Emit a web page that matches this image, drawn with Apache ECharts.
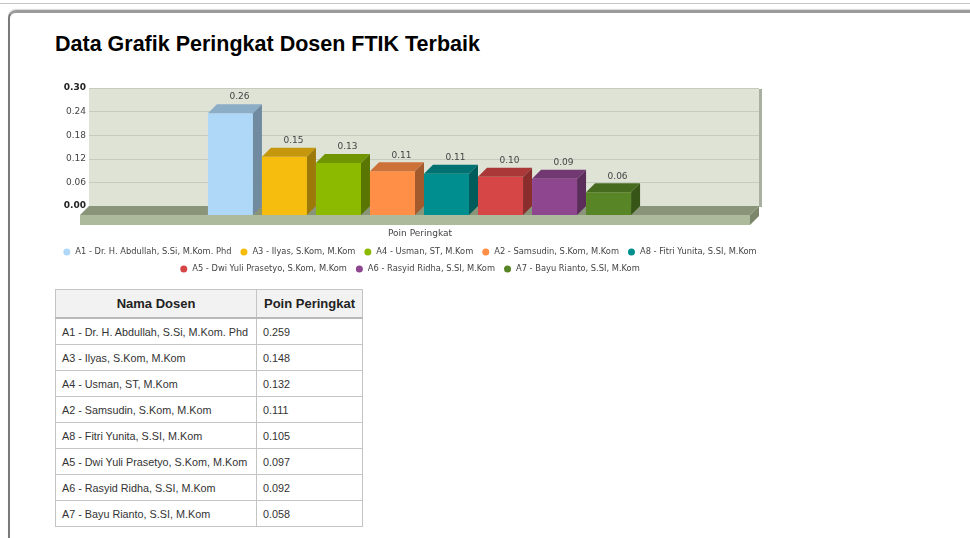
<!DOCTYPE html>
<html><head><meta charset="utf-8">
<script src="https://cdn.jsdelivr.net/npm/echarts/dist/echarts.min.js"></script>
<style>
html,body{margin:0;padding:0;background:#fff;width:970px;height:538px;overflow:hidden;font-family:"Liberation Sans",Arial,sans-serif;}
#topline{position:absolute;left:0;top:3px;width:970px;height:1px;background:#c4c4c4;}
#card{position:absolute;left:8px;top:10px;width:1000px;height:600px;border-left:2px solid #7a7a7a;border-top:3px solid #9c9c9c;border-top-left-radius:8px;box-shadow:0 -1px 1px #d8d8d8;}
#title{position:absolute;left:55px;top:30px;font-size:21.5px;font-weight:bold;color:#000;margin:0;line-height:28px;white-space:nowrap;}
#chart{position:absolute;left:0;top:0;width:820px;height:285px;}
#tbl{position:absolute;left:55px;top:289px;border-collapse:collapse;table-layout:fixed;width:307px;font-family:"Liberation Sans",Arial,sans-serif;}
#tbl th{background:#f2f2f2;font-size:13px;font-weight:bold;color:#222;height:27px;padding:0 6px;border:1px solid #c4c4c4;border-bottom:2px solid #b8b8b8;text-align:center;white-space:nowrap;overflow:hidden;}
#tbl td{font-size:10.8px;color:#333;height:25px;padding:0 6px;border:1px solid #c4c4c4;text-align:left;white-space:nowrap;overflow:hidden;}
</style></head>
<body>
<div id="topline"></div>
<div id="card"></div>
<div id="title">Data Grafik Peringkat Dosen FTIK Terbaik</div>
<div id="chart"></div>
<table id="tbl"><colgroup><col style="width:201px"><col style="width:106px"></colgroup><thead><tr id="thead"></tr></thead><tbody id="tbody"></tbody></table>
<script>
// ---- data ----
const category = ["Poin Peringkat"];
const names = [
  "A1 - Dr. H. Abdullah, S.Si, M.Kom. Phd",
  "A3 - Ilyas, S.Kom, M.Kom",
  "A4 - Usman, ST, M.Kom",
  "A2 - Samsudin, S.Kom, M.Kom",
  "A8 - Fitri Yunita, S.SI, M.Kom",
  "A5 - Dwi Yuli Prasetyo, S.Kom, M.Kom",
  "A6 - Rasyid Ridha, S.SI, M.Kom",
  "A7 - Bayu Rianto, S.SI, M.Kom"
];
const values = [0.259, 0.148, 0.132, 0.111, 0.105, 0.097, 0.092, 0.058];
const colors = ["#AFD8F8", "#F6BD0F", "#8BBA00", "#FF8E46", "#008E8E", "#D64646", "#8E468E", "#588526"];
const tableHeaders = ["Nama Dosen", "Poin Peringkat"];

// ---- table ----
const th = document.getElementById('thead');
tableHeaders.forEach(h => { const c = document.createElement('th'); c.textContent = h; th.appendChild(c); });
const tb = document.getElementById('tbody');
names.forEach((n, i) => {
  const tr = document.createElement('tr');
  const a = document.createElement('td'); a.textContent = n;
  const b = document.createElement('td'); b.textContent = values[i].toFixed(3);
  tr.appendChild(a); tr.appendChild(b); tb.appendChild(tr);
});

// ---- chart ----
const DEPTH = 9, FLOOR_H = 10, GROUP_FR = 0.645;
function shade(hex, f) {
  const n = parseInt(hex.slice(1), 16);
  const r = Math.round(((n >> 16) & 255) * f), g = Math.round(((n >> 8) & 255) * f), b = Math.round((n & 255) * f);
  return 'rgb(' + r + ',' + g + ',' + b + ')';
}
function fmt2(v) { return (Math.round(v * 100 + 1e-9) / 100).toFixed(2); }
const FONT = '"DejaVu Sans", Verdana, sans-serif';

function barRender(k) {
  return function (params, api) {
    const base = api.coord([api.value(0), 0]);
    const top = api.coord([api.value(0), api.value(1)]);
    const band = api.size([1, 0])[0];
    const group = band * GROUP_FR;
    const slot = group / values.length;
    const gl = base[0] - group / 2;
    const bx0 = gl + k * slot + DEPTH, bx1 = gl + (k + 1) * slot;
    const y0 = base[1], y1 = top[1];
    const fx0 = bx0 - DEPTH, fx1 = bx1 - DEPTH, fy0 = y0 + DEPTH, fy1 = y1 + DEPTH;
    const c = colors[k];
    return {
      type: 'group',
      children: [
        { type: 'rect', shape: { x: fx0, y: fy1, width: fx1 - fx0, height: fy0 - fy1 }, style: { fill: c } },
        { type: 'polygon', shape: { points: [[fx0, fy1], [fx1, fy1], [bx1, y1], [bx0, y1]] }, style: { fill: shade(c, 0.8) } },
        { type: 'polygon', shape: { points: [[fx1, fy1], [bx1, y1], [bx1, y0], [fx1, fy0]] }, style: { fill: shade(c, 0.64) } },
        { type: 'text', style: { x: (bx0 + bx1) / 2, y: y1 - 7, text: fmt2(api.value(1)), align: 'center', verticalAlign: 'middle', fill: '#444', font: '9px ' + FONT } }
      ]
    };
  };
}

function floorRender(params, api) {
  const cs = params.coordSys;
  const x = cs.x, w = cs.width, yb = cs.y + cs.height, yt = cs.y;
  return {
    type: 'group',
    children: [
      { type: 'rect', shape: { x: x + w, y: yt + 1, width: 3, height: yb - yt }, style: { fill: '#aab09f' } },
      { type: 'polygon', shape: { points: [[x, yb], [x + w, yb], [x + w - DEPTH, yb + DEPTH], [x - DEPTH, yb + DEPTH]] }, style: { fill: '#8a9478' } },
      { type: 'rect', shape: { x: x - DEPTH, y: yb + DEPTH, width: w, height: FLOOR_H }, style: { fill: '#adba9b' } },
      { type: 'polygon', shape: { points: [[x + w - DEPTH, yb + DEPTH], [x + w, yb], [x + w, yb + FLOOR_H], [x + w - DEPTH, yb + DEPTH + FLOOR_H]] }, style: { fill: '#7c866a' } }
    ]
  };
}

const series = [{
  type: 'custom', name: '__floor', silent: true, z: 1, renderItem: floorRender, data: [[0, 0]]
}];
names.forEach((n, k) => {
  series.push({
    type: 'custom', name: n, z: 2, itemStyle: { color: colors[k] },
    renderItem: barRender(k), data: [[0, values[k]]]
  });
});

const legendText = { fontSize: 8.3, color: '#444', fontFamily: FONT };
const chart = echarts.init(document.getElementById('chart'), null, { renderer: 'canvas' });
chart.setOption({
  animation: false,
  grid: { left: 89, right: 61, top: 88, bottom: 79, show: true, backgroundColor: '#dee3d6', borderWidth: 0 },
  xAxis: {
    type: 'category', data: category, name: category[0], nameLocation: 'middle', nameGap: 23,
    nameTextStyle: { fontSize: 9, color: '#444', fontFamily: FONT, padding: [0, 8, 0, 0] },
    axisLine: { show: false }, axisTick: { show: false }, axisLabel: { show: false }
  },
  yAxis: {
    type: 'value', min: 0, max: 0.3, interval: 0.06,
    axisLine: { show: false }, axisTick: { show: false },
    splitLine: { lineStyle: { color: '#c6cbc0', width: 1 } },
    axisLabel: {
      margin: 3, fontSize: 9, color: '#444', fontFamily: FONT,
      formatter: function (v) {
        const s = v.toFixed(2);
        return (Math.abs(v) < 1e-9 || Math.abs(v - 0.3) < 1e-9) ? '{b|' + s + '}' : s;
      },
      rich: { b: { fontWeight: 'bold', fontSize: 9, color: '#222', fontFamily: FONT } }
    }
  },
  legend: [
    { data: names.slice(0, 5), left: 'center', top: 248, icon: 'circle', itemWidth: 7, itemHeight: 7, itemGap: 9, padding: 0, textStyle: legendText },
    { data: names.slice(5), left: 'center', top: 265, icon: 'circle', itemWidth: 7, itemHeight: 7, itemGap: 9, padding: 0, textStyle: legendText }
  ],
  series: series
});
</script>
</body></html>
